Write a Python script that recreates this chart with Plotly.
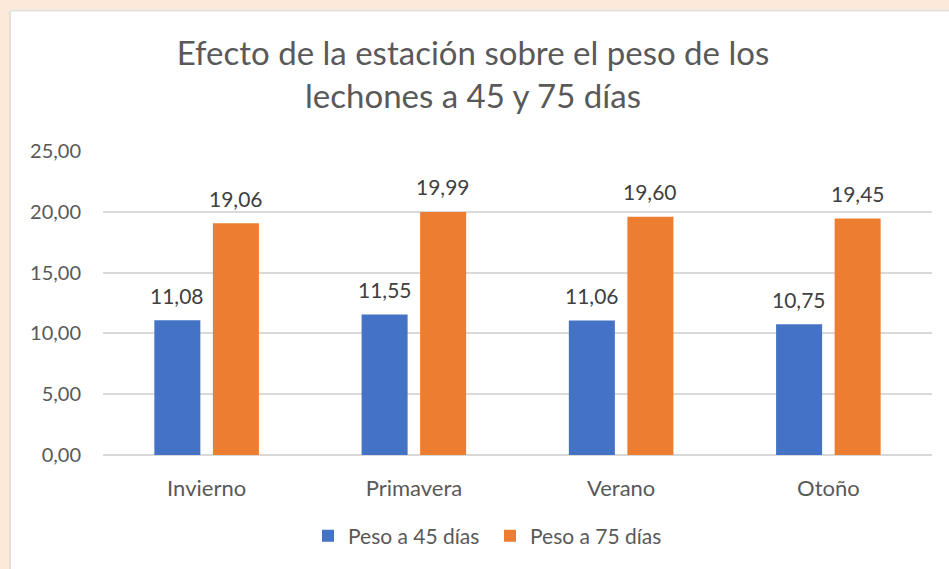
import plotly.graph_objects as go

categories = ["Invierno", "Primavera", "Verano", "Otoño"]
peso_45 = [11.08, 11.55, 11.06, 10.75]
peso_75 = [19.06, 19.99, 19.60, 19.45]
series_names = ["Peso a 45 días", "Peso a 75 días"]
y_ticks = [0, 5, 10, 15, 20, 25]

W, H = 949, 569
L, R, T, B = 103, 17, 151, 111
PW, PH = W - L - R, H - T - B
BARGAP = 0.435
BARGROUPGAP = 0.214
FONT = "Lato"
TXT = "#595959"
PEACH = "#FDE9D9"

def px_x(p):
    return (p - L) / PW

def px_y(p):
    return (H - B - p) / PH

fig = go.Figure()
fig.add_trace(go.Bar(x=categories, y=peso_45, name=series_names[0],
                     marker=dict(color="#4472C4", line=dict(width=0))))
fig.add_trace(go.Bar(x=categories, y=peso_75, name=series_names[1],
                     marker=dict(color="#ED7D31", line=dict(width=0))))

slot = (1 - BARGAP) / 2
annotations = []
for i, (a, b) in enumerate(zip(peso_45, peso_75)):
    for off, v in ((-slot / 2, a), (slot / 2, b)):
        annotations.append(dict(
            x=i + off, y=v, xref="x", yref="y",
            text=f"{v:.2f}".replace(".", ","), showarrow=False,
            yanchor="middle", yshift=25,
            font=dict(family=FONT, size=21, color="#404040")))

shapes = [
    dict(type="rect", xref="paper", yref="paper", x0=px_x(-5), x1=px_x(9),
         y0=px_y(H + 5), y1=px_y(-5), fillcolor=PEACH, line=dict(width=0), layer="below"),
    dict(type="rect", xref="paper", yref="paper", x0=px_x(-5), x1=px_x(W + 5),
         y0=px_y(8), y1=px_y(-5), fillcolor=PEACH, line=dict(width=0), layer="below"),
    dict(type="line", xref="paper", yref="paper", x0=px_x(10), x1=px_x(10),
         y0=px_y(9), y1=px_y(H + 5), line=dict(color="#E4E0DA", width=2), layer="below"),
    dict(type="line", xref="paper", yref="paper", x0=px_x(10), x1=px_x(W + 5),
         y0=px_y(9), y1=px_y(9), line=dict(color="#E4E0DA", width=2), layer="below"),
]

fig.update_layout(
    width=W, height=H,
    margin=dict(l=L, r=R, t=T, b=B, pad=0),
    paper_bgcolor="white", plot_bgcolor="white",
    separators=",.",
    barmode="group", bargap=BARGAP, bargroupgap=BARGROUPGAP,
    font=dict(family=FONT, color=TXT),
    title=dict(text="Efecto de la estación sobre el peso de los<br>lechones a 45 y 75 días",
               x=473 / W, xanchor="center", xref="container",
               y=(H - 65) / H, yanchor="middle", yref="container",
               font=dict(family=FONT, size=33, color=TXT)),
    showlegend=True,
    legend=dict(orientation="h", x=px_x(490), xanchor="center", y=px_y(540), yanchor="middle",
                font=dict(family=FONT, size=21, color=TXT), traceorder="normal",
                itemwidth=30, entrywidth=137, entrywidthmode="pixels",
                bgcolor="rgba(0,0,0,0)"),
    xaxis=dict(showgrid=False, showline=False, zeroline=False, ticks="",
               tickfont=dict(family=FONT, size=22, color=TXT), ticklabelstandoff=18),
    yaxis=dict(range=[0, 25], tickvals=y_ticks, tickformat=".2f", showgrid=True,
               gridcolor="#D9D9D9", gridwidth=1.5, zeroline=True, zerolinecolor="#D9D9D9",
               zerolinewidth=1.5, showline=False, ticks="",
               tickfont=dict(family=FONT, size=20, color=TXT), ticklabelstandoff=21),
    annotations=annotations,
    shapes=shapes,
)

fig.write_html("out.html", config={"displayModeBar": False},
               post_script="document.body.style.margin='0';document.body.style.background='%s';" % PEACH)
